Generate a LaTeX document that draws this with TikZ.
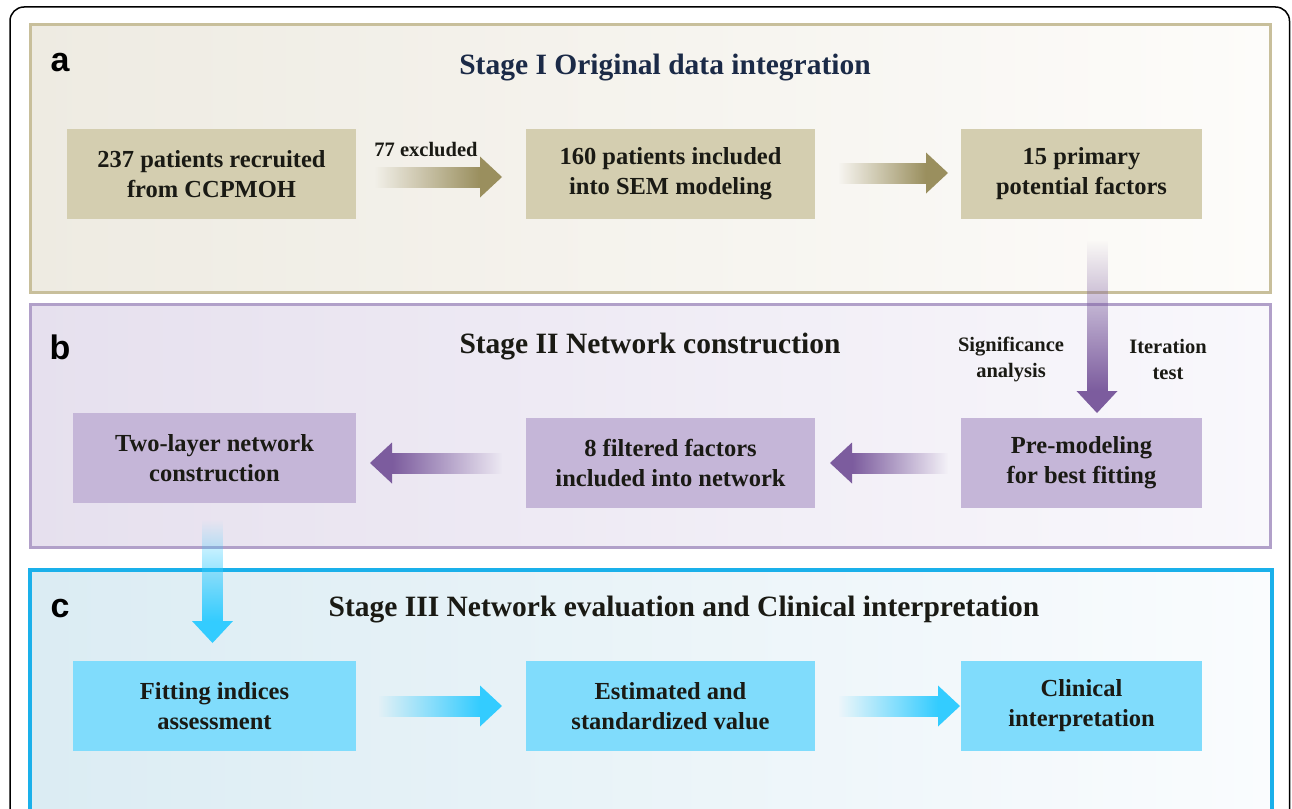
\documentclass[tikz,border=0pt]{standalone}
\usepackage{fontspec}
\setmainfont{Liberation Serif}
\newfontfamily\labfont{Liberation Sans}
\usetikzlibrary{calc,fadings}
\definecolor{tanB}{HTML}{C8BF9B}
\definecolor{purB}{HTML}{B1A0C9}
\definecolor{cyaB}{HTML}{1AB0EA}
\definecolor{tanL}{HTML}{EEEBE2}
\definecolor{tanR}{HTML}{FDFCFA}
\definecolor{purL}{HTML}{E6E0EE}
\definecolor{purR}{HTML}{F9F8FC}
\definecolor{cyaL}{HTML}{DBECF3}
\definecolor{cyaR}{HTML}{FAFCFE}
\definecolor{tanF}{HTML}{D4CEB0}
\definecolor{purF}{HTML}{C5B6D8}
\definecolor{cyaF}{HTML}{80DCFC}
\definecolor{tanA}{HTML}{9A8F5E}
\definecolor{purA}{HTML}{7C5C9E}
\definecolor{cyaA}{HTML}{33CCFF}
\definecolor{navyT}{HTML}{1B2A47}
\definecolor{darkT}{HTML}{1A1A14}
\tikzfading[name=fadeE, left color=transparent!100, right color=transparent!0]
\tikzfading[name=fadeW, left color=transparent!0, right color=transparent!100]
\tikzfading[name=fadeS, top color=transparent!100, bottom color=transparent!0]
\newcommand\blockarrow[4]{%
  \coordinate (bS) at #1;
  \coordinate (bT) at #2;
  \coordinate (bH) at ($(bT)!22pt!(bS)$);
  \fill[#3, path fading=#4] ($(bS)!10.5pt!90:(bT)$) -- ($(bH)!10.5pt!90:(bT)$) -- ($(bH)!10.5pt!-90:(bT)$) -- ($(bS)!10.5pt!-90:(bT)$) -- cycle;
  \fill[#3] ($(bH)!20.5pt!90:(bT)$) -- (bT) -- ($(bH)!20.5pt!-90:(bT)$) -- cycle;
}
\begin{document}
\begin{tikzpicture}[x=1pt,y=-1pt,
  stagebox/.style={line width=3pt, inner sep=0pt, outer sep=0pt, anchor=north west, minimum width=1240pt},
  box/.style={inner xsep=0pt, inner ysep=0pt, outer sep=0pt, anchor=north west, minimum height=90pt, align=center, text=darkT, font=\fontsize{24.5}{30}\selectfont\bfseries},
  wbox/.style={box, minimum width=289pt},
  nbox/.style={box, minimum width=241pt},
  title/.style={font=\fontsize{29.5}{34}\selectfont\bfseries, text=darkT},
  lab/.style={font=\labfont\fontsize{34}{34}\selectfont\bfseries, text=black},
  note/.style={font=\fontsize{20.5}{26}\selectfont\bfseries, text=darkT, align=center}]
\useasboundingbox (0,0) rectangle (1292,808);
\clip (0,0) rectangle (1292,808);
\fill[white] (0,0) rectangle (1292,808);
% outer frame
\draw[line width=1.5pt, rounded corners=14pt] (10,7) rectangle (1289.5,900);
% stage containers
\node[stagebox, draw=tanB, left color=tanL, right color=tanR, minimum height=267pt] (stA) at (30,25) {};
\node[stagebox, draw=purB, left color=purL, right color=purR, minimum height=243pt] (stB) at (30,304) {};
\node[stagebox, draw=cyaB, line width=3.5pt, left color=cyaL, right color=cyaR, minimum width=1242pt, minimum height=270pt] (stC) at (30,570) {};
% labels and titles
\node[lab] (la) at (60,63) {a};
\node[lab] (lb) at (60,347) {b};
\node[lab] (lc) at (60,609) {c};
\node[title, text=navyT] (tA) at (665,68) {Stage I Original data integration};
\node[title] (tB) at (650,347) {Stage II Network construction};
\node[title] (tC) at (684,610) {Stage III Network evaluation and Clinical interpretation};
% row 1
\node[wbox, fill=tanF] (n1) at (67,129) {\rule{0pt}{4pt}237 patients recruited\\from CCPMOH};
\node[wbox, fill=tanF] (n2) at (526,129) {\rule{0pt}{4pt}160 patients included\\into SEM modeling};
\node[nbox, fill=tanF] (n3) at (961,129) {\rule{0pt}{4pt}15 primary\\potential factors};
% row 2
\node[box, minimum width=283pt, fill=purF] (n4) at (73,413) {Two-layer network\\construction};
\node[wbox, fill=purF] (n5) at (526,418) {8 filtered factors\\included into network};
\node[nbox, fill=purF] (n6) at (961,418) {Pre-modeling\\for best fitting};
% row 3
\node[box, minimum width=283pt, fill=cyaF] (n7) at (73,661) {Fitting indices\\assessment};
\node[wbox, fill=cyaF] (n8) at (526,661) {Estimated and\\standardized value};
\node[nbox, fill=cyaF] (n9) at (961,661) {Clinical\\interpretation};
% notes
\node[note] (x77) at (426,150) {77 excluded};
\node[note] (sig) at (1011,359) {Significance\\analysis};
\node[note] (itr) at (1168,359) {Iteration\\test};
% arrows
\blockarrow{($(n1.east)+(19,3)$)}{($(n2.west)+(-24,3)$)}{tanA}{fadeE}
\blockarrow{($(n2.east)+(23,-1)$)}{($(n3.west)+(-13,-1)$)}{tanA}{fadeE}
\blockarrow{($(n3.south)+(15.5,21)$)}{($(n6.north)+(15.5,-5)$)}{purA}{fadeS}
\blockarrow{($(n6.west)+(-13,0)$)}{($(n5.east)+(15,0)$)}{purA}{fadeW}
\blockarrow{($(n5.west)+(-24,0)$)}{($(n4.east)+(14,5)$)}{purA}{fadeW}
\blockarrow{($(n4.south)+(-2,17)$)}{($(n7.north)+(-2,-18)$)}{cyaA}{fadeS}
\blockarrow{($(n7.east)+(22,0)$)}{($(n8.west)+(-24,0)$)}{cyaA}{fadeE}
\blockarrow{($(n8.east)+(23,0)$)}{($(n9.west)+(-1,0)$)}{cyaA}{fadeE}
\end{tikzpicture}
\end{document}
